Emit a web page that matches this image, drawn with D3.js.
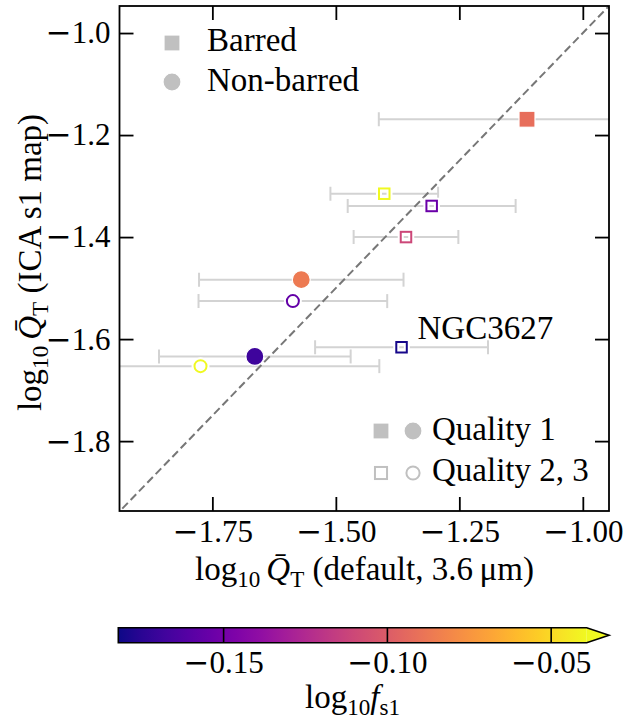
<!DOCTYPE html>
<html>
<head>
<meta charset="utf-8">
<script src="https://cdn.jsdelivr.net/npm/d3@7"></script>
<style>
  html, body { margin: 0; padding: 0; background: #fff; }
  svg { display: block; }
</style>
</head>
<body>
<script>
// Galaxy sample: torque parameter from the default 3.6 um map vs. the ICA s1 map
const xDefault = [-1.113, -1.402, -1.306, -1.358, -1.570, -1.587, -1.367, -1.664, -1.774];
const xErr     = [ 0.300,  0.109,  0.170,  0.106,  0.207,  0.191,  0.175,  0.194,  0.362];
const yIca     = [-1.169, -1.315, -1.339, -1.400, -1.4835, -1.5255, -1.616, -1.634, -1.653];
const logFs1   = [-0.092, -0.030, -0.153, -0.110, -0.086, -0.156, -0.180, -0.169, -0.030];
const barred   = [true, true, true, true, false, false, true, false, false];
const quality  = [1, 2, 2, 2, 1, 2, 2, 1, 3];
const labels   = ["", "", "", "", "", "", "NGC3627", "", ""];

const xTicks = [-1.75, -1.50, -1.25, -1.00];
const yTicks = [-1.0, -1.2, -1.4, -1.6, -1.8];
const cTicks = [-0.15, -0.10, -0.05];
const xDomain = [-1.938, -0.947];
const yDomain = [-1.937, -0.947];
const cDomain = [-0.182, -0.039];

const W = 639, H = 723;
const P = { l: 119.5, r: 609, t: 6, b: 511 };
const CB = { l: 118.3, r: 586.7, tip: 609, t: 627.7, b: 642.7 };
const SERIF = "'Liberation Serif', 'Times New Roman', serif";

const svg = d3.select("body").append("svg").attr("width", W).attr("height", H);

const x = d3.scaleLinear().domain(xDomain).range([P.l, P.r]);
const y = d3.scaleLinear().domain(yDomain).range([P.b, P.t]);
const cx = d3.scaleLinear().domain(cDomain).range([CB.l, CB.r]);
const color = v => d3.interpolatePlasma(Math.max(0, Math.min(1, (v - cDomain[0]) / (cDomain[1] - cDomain[0]))));

svg.append("defs").append("clipPath").attr("id", "plotclip")
  .append("rect").attr("x", P.l).attr("y", P.t).attr("width", P.r - P.l).attr("height", P.b - P.t);

// split a leading minus sign into its own tspan (wider sans minus glyph)
function styleMinus(sel) {
  sel.each(function () {
    const s = d3.select(this).text();
    if (s.startsWith("\u2212")) {
      const t = d3.select(this).text(null);
      t.append("tspan").style("font-family", "'DejaVu Sans'").text("\u2212");
      t.append("tspan").text(s.slice(1));
    }
  });
}

const tickFont = 31, labelFont = 33;

// axes with inward ticks on all four sides
const fmt2 = d3.format(".2f"), fmt1 = d3.format(".1f");
const gB = svg.append("g").attr("transform", `translate(0,${P.b})`)
  .call(d3.axisBottom(x).tickValues(xTicks).tickSize(-14).tickPadding(9).tickFormat(fmt2));
const gT = svg.append("g").attr("transform", `translate(0,${P.t})`)
  .call(d3.axisTop(x).tickValues(xTicks).tickSize(-14).tickFormat(""));
const gL = svg.append("g").attr("transform", `translate(${P.l},0)`)
  .call(d3.axisLeft(y).tickValues(yTicks).tickSize(-14).tickPadding(9).tickFormat(fmt1));
const gR = svg.append("g").attr("transform", `translate(${P.r},0)`)
  .call(d3.axisRight(y).tickValues(yTicks).tickSize(-14).tickFormat(""));
[gB, gT, gL, gR].forEach(g => {
  g.attr("font-family", null).attr("font-size", null);
  g.select(".domain").remove();
  g.selectAll(".tick line").attr("stroke", "#000").attr("stroke-width", 1.8);
  g.selectAll(".tick text").style("font-size", tickFont + "px").attr("fill", "#000");
});
styleMinus(gB.selectAll(".tick text"));
styleMinus(gL.selectAll(".tick text"));

// error bars
const plotG = svg.append("g").attr("clip-path", "url(#plotclip)");
const capH = 7;
const eb = plotG.append("g").selectAll("g").data(xDefault.map((d, i) => i)).join("g")
  .attr("stroke", "#d3d3d3").attr("stroke-width", 2).attr("fill", "none");
eb.append("line").attr("x1", i => x(xDefault[i] - xErr[i])).attr("x2", i => x(xDefault[i] + xErr[i]))
  .attr("y1", i => y(yIca[i])).attr("y2", i => y(yIca[i]));
eb.append("line").attr("x1", i => x(xDefault[i] - xErr[i])).attr("x2", i => x(xDefault[i] - xErr[i]))
  .attr("y1", i => y(yIca[i]) - capH).attr("y2", i => y(yIca[i]) + capH);
eb.append("line").attr("x1", i => x(xDefault[i] + xErr[i])).attr("x2", i => x(xDefault[i] + xErr[i]))
  .attr("y1", i => y(yIca[i]) - capH).attr("y2", i => y(yIca[i]) + capH);

// one-to-one line
plotG.append("line")
  .attr("x1", x(-2)).attr("y1", y(-2)).attr("x2", x(-0.9)).attr("y2", y(-0.9))
  .attr("stroke", "#777").attr("stroke-width", 2).attr("stroke-dasharray", "8,4");

// markers
function marker(g, cx0, cy0, isSquare, filled, col, scale = 1) {
  if (filled) {
    if (isSquare) {
      const s = 16 * scale;
      g.append("rect").attr("x", cx0 - s / 2).attr("y", cy0 - s / 2).attr("width", s).attr("height", s)
        .attr("fill", col).attr("stroke", "#fff").attr("stroke-width", 1.2);
    } else {
      g.append("circle").attr("cx", cx0).attr("cy", cy0).attr("r", 9 * scale)
        .attr("fill", col).attr("stroke", "#fff").attr("stroke-width", 1.2);
    }
  } else {
    if (isSquare) {
      const s = 10.5 * scale;
      g.append("rect").attr("x", cx0 - s / 2).attr("y", cy0 - s / 2).attr("width", s).attr("height", s)
        .attr("fill", "none").attr("stroke", "#fff").attr("stroke-width", 6);
      g.append("rect").attr("x", cx0 - s / 2).attr("y", cy0 - s / 2).attr("width", s).attr("height", s)
        .attr("fill", "none").attr("stroke", col).attr("stroke-width", 2);
    } else {
      g.append("circle").attr("cx", cx0).attr("cy", cy0).attr("r", 6 * scale)
        .attr("fill", "#fff").attr("stroke", "#fff").attr("stroke-width", 6);
      g.append("circle").attr("cx", cx0).attr("cy", cy0).attr("r", 6 * scale)
        .attr("fill", "#fff").attr("stroke", col).attr("stroke-width", 2);
    }
  }
}
const mk = plotG.append("g");
xDefault.forEach((d, i) => {
  marker(mk, x(d), y(yIca[i]), barred[i], quality[i] === 1, color(logFs1[i]));
});

// frame
svg.append("rect").attr("x", P.l).attr("y", P.t).attr("width", P.r - P.l).attr("height", P.b - P.t)
  .attr("fill", "none").attr("stroke", "#000").attr("stroke-width", 1.8);

// point annotation
xDefault.forEach((d, i) => {
  if (labels[i]) {
    svg.append("text").attr("x", x(d) + 16).attr("y", y(yIca[i]) - 8)
      .style("font-size", labelFont + "px").text(labels[i]);
  }
});

// legends
const legGray = "#c0c0c0";
const lg = svg.append("g");
marker(lg, 172, 43, true, true, legGray, 1.0);
marker(lg, 172, 82, false, true, legGray, 1.0);
lg.append("text").attr("x", 207).attr("y", 51).style("font-size", labelFont + "px").text("Barred");
lg.append("text").attr("x", 207).attr("y", 91).style("font-size", labelFont + "px").text("Non-barred");

marker(lg, 381, 431, true, true, legGray, 1.0);
marker(lg, 413, 431, false, true, legGray, 1.0);
marker(lg, 381, 473, true, false, legGray, 1.15);
marker(lg, 413, 473, false, false, legGray, 1.1);
lg.append("text").attr("x", 432).attr("y", 440).style("font-size", labelFont + "px").text("Quality 1");
lg.append("text").attr("x", 432).attr("y", 481).style("font-size", labelFont + "px").text("Quality 2, 3");

// axis titles: log10 Q̄T
function qLabel(t, tail) {
  t.append("tspan").text("log");
  t.append("tspan").style("font-size", "0.7em").attr("dy", 7).text("10");
  t.append("tspan").attr("dy", -7).attr("dx", 6).style("font-style", "italic").text("Q\u0304");
  t.append("tspan").style("font-size", "0.7em").attr("dy", 7).text("T");
  t.append("tspan").attr("dy", -7).text(tail);
}
const xt = svg.append("text").attr("x", 364.5).attr("y", 580).attr("text-anchor", "middle")
  .style("font-size", labelFont + "px");
qLabel(xt, " (default, 3.6\u2009\u03bcm)");
const yt = svg.append("text").attr("transform", "translate(41,262.5) rotate(-90)").attr("text-anchor", "middle")
  .style("font-size", labelFont + "px");
qLabel(yt, " (ICA s1 map)");

// colorbar
const grad = svg.select("defs").append("linearGradient").attr("id", "plasmaGrad")
  .attr("x1", "0%").attr("x2", "100%").attr("y1", "0%").attr("y2", "0%");
d3.range(0, 1.0001, 0.05).forEach(t => {
  grad.append("stop").attr("offset", (t * 100) + "%").attr("stop-color", d3.interpolatePlasma(t));
});
svg.append("rect").attr("x", CB.l).attr("y", CB.t).attr("width", CB.r - CB.l).attr("height", CB.b - CB.t)
  .attr("fill", "url(#plasmaGrad)");
svg.append("path")
  .attr("d", `M${CB.r},${CB.t} L${CB.tip},${(CB.t + CB.b) / 2} L${CB.r},${CB.b} Z`)
  .attr("fill", d3.interpolatePlasma(1));
const gC = svg.append("g").attr("transform", `translate(0,${CB.b})`)
  .call(d3.axisBottom(cx).tickValues(cTicks).tickSize(-(CB.b - CB.t)).tickPadding(8).tickFormat(fmt2));
gC.attr("font-family", null).attr("font-size", null);
gC.select(".domain").remove();
gC.selectAll(".tick line").attr("stroke", "#000").attr("stroke-width", 1.6);
gC.selectAll(".tick text").style("font-size", tickFont + "px").attr("fill", "#000");
styleMinus(gC.selectAll(".tick text"));
svg.append("path")
  .attr("d", `M${CB.l},${CB.t} H${CB.r} L${CB.tip},${(CB.t + CB.b) / 2} L${CB.r},${CB.b} H${CB.l} Z`)
  .attr("fill", "none").attr("stroke", "#000").attr("stroke-width", 1.6);

const ct = svg.append("text").attr("x", 352.5).attr("y", 708).attr("text-anchor", "middle")
  .style("font-size", labelFont + "px");
ct.append("tspan").text("log");
ct.append("tspan").style("font-size", "0.7em").attr("dy", 7).text("10");
ct.append("tspan").attr("dy", -7).style("font-style", "italic").text("f");
ct.append("tspan").style("font-size", "0.7em").attr("dy", 7).text("s1");

// serif face on every text element (minus tspans keep their own face)
svg.selectAll("text").style("font-family", SERIF).attr("fill", "#000");
</script>
</body>
</html>
